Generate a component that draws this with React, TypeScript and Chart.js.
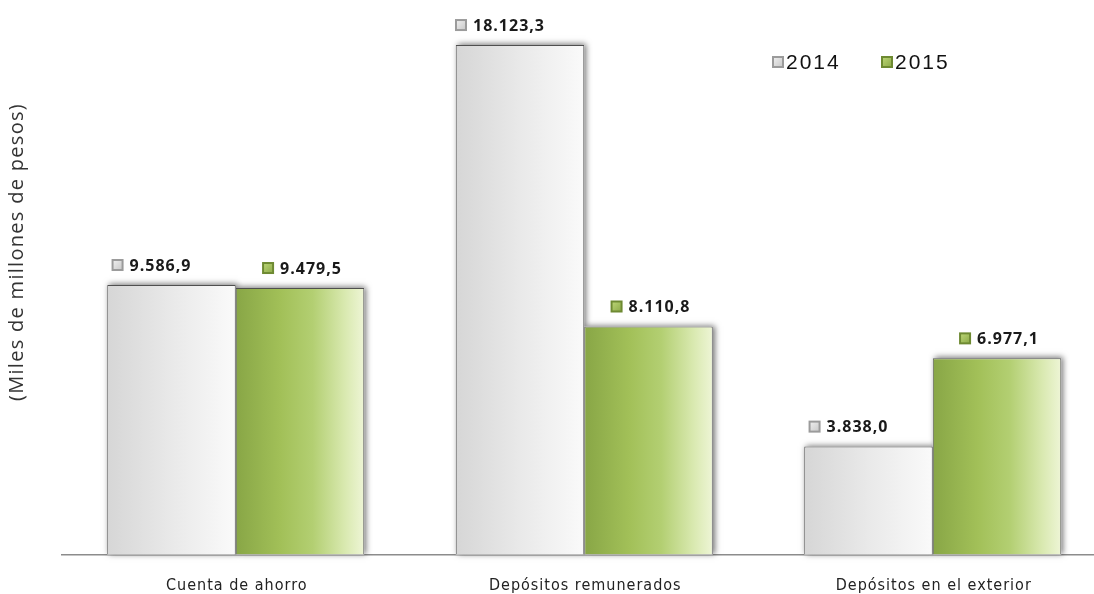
import { useEffect, useRef } from 'react';
import { Chart, registerables } from 'chart.js';

Chart.register(...registerables);

const categories = ['Cuenta de ahorro', 'Depósitos remunerados', 'Depósitos en el exterior'];
const seriesNames = ['2014', '2015'];
const values2014 = [9586.9, 18123.3, 3838.0];
const values2015 = [9479.5, 8110.8, 6977.1];
const yAxisTitle = '(Miles de millones de pesos)';

const CAT_PCT = 0.7375;

function fmt(v: number) {
  const [i, d] = v.toFixed(1).split('.');
  return i.replace(/\B(?=(\d{3})+(?!\d))/g, '.') + ',' + d;
}

const grayStops: [number, string][] = [
  [0, '#d6d6d6'],
  [0.5, '#e9e9e9'],
  [1, '#fafafa'],
];
const greenStops: [number, string][] = [
  [0, '#88a646'],
  [0.35, '#a2c058'],
  [0.6, '#b3cf72'],
  [0.85, '#d9e9b0'],
  [1, '#eef5d6'],
];

function barGradient(ctx: any) {
  const chart = ctx.chart;
  const stops = ctx.datasetIndex === 0 ? grayStops : greenStops;
  const xs = chart.scales && chart.scales.x;
  if (!chart.chartArea || !xs || ctx.type !== 'data') return stops[1][1];
  const n = categories.length;
  const cat = (xs.right - xs.left) / n;
  const gw = cat * CAT_PCT;
  const center = xs.getPixelForValue(ctx.dataIndex);
  const x0 = center - gw / 2 + ctx.datasetIndex * (gw / 2);
  const x1 = x0 + gw / 2;
  const g = chart.ctx.createLinearGradient(x0, 0, x1, 0);
  stops.forEach(([o, c]) => g.addColorStop(o, c));
  return g;
}

function drawIcon(c: CanvasRenderingContext2D, x: number, y: number, s: number, series: number) {
  c.save();
  c.shadowColor = 'transparent';
  if (series === 0) {
    c.fillStyle = '#9b9b9b';
    c.fillRect(x, y, s, s);
    const g = c.createLinearGradient(x, y, x + s, y + s);
    g.addColorStop(0, '#f4f4f4');
    g.addColorStop(1, '#c4c4c4');
    c.fillStyle = g;
    c.fillRect(x + 2, y + 2, s - 4, s - 4);
  } else {
    c.fillStyle = '#6e8a32';
    c.fillRect(x, y, s, s);
    const g = c.createLinearGradient(x, y, x + s, y + s);
    g.addColorStop(0, '#c2dc7c');
    g.addColorStop(1, '#86a443');
    c.fillStyle = g;
    c.fillRect(x + 2, y + 2, s - 4, s - 4);
  }
  c.restore();
}

const shadowPlugin = {
  id: 'barShadow',
  beforeDatasetsDraw(chart: any) {
    const c: CanvasRenderingContext2D = chart.ctx;
    chart.data.datasets.forEach((_ds: any, di: number) => {
      const meta = chart.getDatasetMeta(di);
      meta.data.forEach((el: any) => {
        const left = el.x - el.width / 2;
        const top = Math.min(el.y, el.base);
        const h = Math.abs(el.base - el.y);
        c.save();
        c.shadowColor = 'rgba(0,0,0,0.55)';
        c.shadowBlur = 6;
        c.shadowOffsetX = 2;
        c.shadowOffsetY = -1;
        c.fillStyle = '#ffffff';
        c.fillRect(left, top, el.width, h);
        c.restore();
      });
    });
  },
};

const LABEL_SHIFT = [-20, 2];

const decorPlugin = {
  id: 'decor',
  afterDraw(chart: any) {
    const c: CanvasRenderingContext2D = chart.ctx;
    const xs = chart.scales.x;

    // data labels
    c.save();
    c.font = 'bold 16px "Open Sans", sans-serif';
    (c as any).letterSpacing = '1px';
    c.fillStyle = '#1a1a1a';
    c.textAlign = 'left';
    c.textBaseline = 'middle';
    chart.data.datasets.forEach((ds: any, di: number) => {
      const meta = chart.getDatasetMeta(di);
      meta.data.forEach((el: any, i: number) => {
        const txt = fmt(ds.data[i]);
        const w = c.measureText(txt).width;
        const total = 12 + 6 + w;
        const start = el.x + LABEL_SHIFT[di] - total / 2;
        const ty = el.y - 19;
        drawIcon(c, start, ty - 7, 12, di);
        c.fillText(txt, start + 18, ty);
      });
    });
    c.restore();

    // category labels
    c.save();
    c.font = '16px "DejaVu Sans Condensed", "Liberation Sans", sans-serif';
    (c as any).letterSpacing = '1px';
    c.fillStyle = '#222';
    c.textAlign = 'center';
    c.textBaseline = 'alphabetic';
    categories.forEach((lab, i) => {
      c.fillText(lab, xs.getPixelForValue(i) + 1, 590);
    });
    c.restore();

    // legend
    c.save();
    c.font = '21px "Liberation Sans", Arial, sans-serif';
    (c as any).letterSpacing = '2px';
    c.fillStyle = '#111';
    c.textAlign = 'left';
    c.textBaseline = 'middle';
    const legX = [772, 881];
    seriesNames.forEach((name, i) => {
      drawIcon(c, legX[i], 56, 12, i);
      c.fillText(name, legX[i] + 14, 63);
    });
    c.restore();

    // y axis title
    c.save();
    c.translate(17.5, 252);
    c.rotate(-Math.PI / 2);
    c.font = '20px "Open Sans", sans-serif';
    (c as any).letterSpacing = '1.3px';
    c.fillStyle = '#333';
    c.textAlign = 'center';
    c.textBaseline = 'middle';
    c.fillText(yAxisTitle, 0, 0);
    c.restore();
  },
};

export default function App() {
  const ref = useRef<HTMLCanvasElement | null>(null);
  useEffect(() => {
    if (!ref.current) return;
    const chart = new Chart(ref.current, {
      type: 'bar',
      data: {
        labels: categories,
        datasets: [
          {
            label: seriesNames[0],
            data: values2014,
            backgroundColor: barGradient as any,
            borderColor: '#4f4f4f',
            borderWidth: 1,
            categoryPercentage: CAT_PCT,
            barPercentage: 1.0,
          },
          {
            label: seriesNames[1],
            data: values2015,
            backgroundColor: barGradient as any,
            borderColor: '#4f4f4f',
            borderWidth: 1,
            categoryPercentage: CAT_PCT,
            barPercentage: 1.0,
          },
        ],
      },
      options: {
        responsive: false,
        animation: false,
        devicePixelRatio: 1,
        layout: { padding: { left: 61.5, top: 20.4, right: 0, bottom: 39.5 } },
        plugins: {
          legend: { display: false },
          tooltip: { enabled: false },
        },
        scales: {
          x: {
            grid: { display: false, drawTicks: false },
            ticks: { display: false },
            border: { display: true, color: '#8c8c8c', width: 1.5 },
          },
          y: {
            display: false,
            min: 0,
            max: 19000,
          },
        },
      },
      plugins: [shadowPlugin, decorPlugin],
    });
    return () => chart.destroy();
  }, []);
  return (
    <div style={{ position: 'fixed', left: 0, top: 0, width: 1094, height: 594, overflow: 'hidden', background: '#fff' }}>
      <canvas ref={ref} width={1107} height={594} style={{ display: 'block' }} />
    </div>
  );
}
